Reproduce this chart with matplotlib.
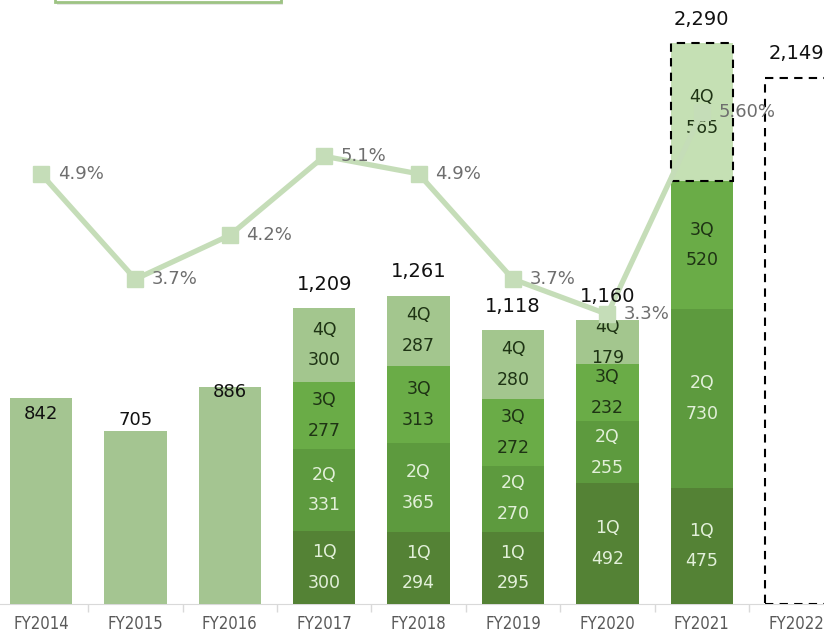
import matplotlib
matplotlib.use("Agg")
import matplotlib.pyplot as plt
from matplotlib.patches import Rectangle
from matplotlib import font_manager

# ---------------- data ----------------
years = ["FY2014", "FY2015", "FY2016", "FY2017", "FY2018", "FY2019", "FY2020", "FY2021", "FY2022"]
totals = [842, 705, 886, 1209, 1261, 1118, 1160, 2290, 2149]
total_labels = ["842", "705", "886", "1,209", "1,261", "1,118", "1,160", "2,290", "2,149"]
# quarterly breakdown FY2017 - FY2021
q_years = ["FY2017", "FY2018", "FY2019", "FY2020", "FY2021"]
q1 = [300, 294, 295, 492, 475]
q2 = [331, 365, 270, 255, 730]
q3 = [277, 313, 272, 232, 520]
q4 = [300, 287, 280, 179, 565]
quarter_names = ["1Q", "2Q", "3Q", "4Q"]
# ratio line FY2014 - FY2021
ratio_years = ["FY2014", "FY2015", "FY2016", "FY2017", "FY2018", "FY2019", "FY2020", "FY2021"]
ratio = [4.9, 3.7, 4.2, 5.1, 4.9, 3.7, 3.3, 5.6]
ratio_labels = ["4.9%", "3.7%", "4.2%", "5.1%", "4.9%", "3.7%", "3.3%", "5.60%"]

# ---------------- style ----------------
plt.rcParams["font.family"] = ["DejaVu Sans"]
condensed_ok = any(f.name == "DejaVu Sans" and "ondensed" in f.fname
                   for f in font_manager.fontManager.ttflist)

c_annual = "#A4C591"
c_q = ["#548235", "#5D9A3E", "#6AAC47", "#A3C68E"]
c_q4_forecast = "#C5E0B4"
c_line = "#C5DDB8"
txt_light = "#E2F0D9"
txt_dark = "#1E3314"
# vertical offsets (px) of the simple annual labels relative to bar top
annual_label_offset = [-16, 11, -5]

W, H = 824, 633
fig = plt.figure(figsize=(W / 100, H / 100), dpi=100)
left_px, right_px = -6.2, 843.4
base_px = 604
ax = fig.add_axes([left_px / W, (H - base_px) / H, (right_px - left_px) / W, base_px / H])
ymax = 2465.5
ax.set_ylim(0, ymax)
ax.set_xlim(-0.5, len(years) - 0.5)
ax2 = ax.twinx()
ax2.set_ylim(0, 6.88)

bw = 0.66
x = list(range(len(years)))

# annual bars FY2014-FY2016
for i in range(3):
    ax.bar(x[i], totals[i], width=bw, color=c_annual, zorder=2)
    ax2.annotate(total_labels[i], (x[i], totals[i]), xycoords=ax.transData,
                 xytext=(0, annual_label_offset[i] * 0.72), textcoords="offset points",
                 ha="center", va="center", fontsize=13, color="#111111")

# quarterly stacked bars
for j, yname in enumerate(q_years):
    i = years.index(yname)
    vals = [q1[j], q2[j], q3[j], q4[j]]
    bottom = 0
    for k, v in enumerate(vals):
        col = c_q[k]
        ls, ec, lw = "solid", "none", 0
        if yname == "FY2021" and k == 3:
            col = c_q4_forecast
            ec, ls, lw = "black", (0, (4, 3)), 1.5
        ax.bar(x[i], v, bottom=bottom, width=bw, color=col, edgecolor=ec,
               linestyle=ls, linewidth=lw, zorder=2)
        ax.text(x[i], bottom + v / 2, f"{quarter_names[k]}\n{v}", ha="center", va="center",
                fontsize=12.5, linespacing=1.9,
                color=txt_light if k < 2 else txt_dark, zorder=3)
        bottom += v

# FY2022 forecast bar (outline only)
i22 = years.index("FY2022")
ax.bar(x[i22], totals[i22], width=bw, facecolor="white", edgecolor="black",
       linestyle=(0, (4, 3)), linewidth=1.5, zorder=2)

# totals above stacked bars
for i in range(3, len(years)):
    ax2.annotate(total_labels[i], (x[i], totals[i]), xycoords=ax.transData,
                 xytext=(0, 17), textcoords="offset points",
                 ha="center", va="center", fontsize=14, color="#111111", zorder=6)

# ratio line
rx = [years.index(y) for y in ratio_years]
ax2.plot(rx, ratio, color=c_line, lw=3.8, marker="s", markersize=11, zorder=4,
         solid_joinstyle="miter")
for xi, r, lab in zip(rx, ratio, ratio_labels):
    ax2.annotate(lab, (xi, r), xytext=(12, 0), textcoords="offset points",
                 ha="left", va="center", fontsize=13, color="#6E6E6E", zorder=5)

# axes styling
for a in (ax, ax2):
    for s in a.spines.values():
        s.set_visible(False)
    a.set_yticks([])
ax.spines["bottom"].set_visible(True)
ax.spines["bottom"].set_color("#D9D9D9")
ax.spines["bottom"].set_zorder(1)
ax.set_xticks(x)
ax.set_xticklabels(years, fontsize=12 if condensed_ok else 11, color="#595959",
                   fontstretch="condensed" if condensed_ok else "normal")
ax.tick_params(axis="x", which="major", length=0, pad=8)
ax.set_xticks([i + 0.5 for i in range(len(years) - 1)], minor=True)
ax.tick_params(axis="x", which="minor", length=6, color="#D9D9D9", width=1)
ax2.tick_params(axis="y", length=0)

# partial legend box at the top-left edge
fig.patches.append(Rectangle((57 / W, (H - 4.5) / H), 226 / W, 0.05, transform=fig.transFigure,
                             facecolor="#E6E6E6", edgecolor="none", zorder=0))
fig.patches.append(Rectangle((55 / W, (H - 2) / H), 226 / W, 0.05, transform=fig.transFigure,
                             facecolor="white", edgecolor="#9DC383", linewidth=2, zorder=1))

fig.savefig("out.png", dpi=100)
